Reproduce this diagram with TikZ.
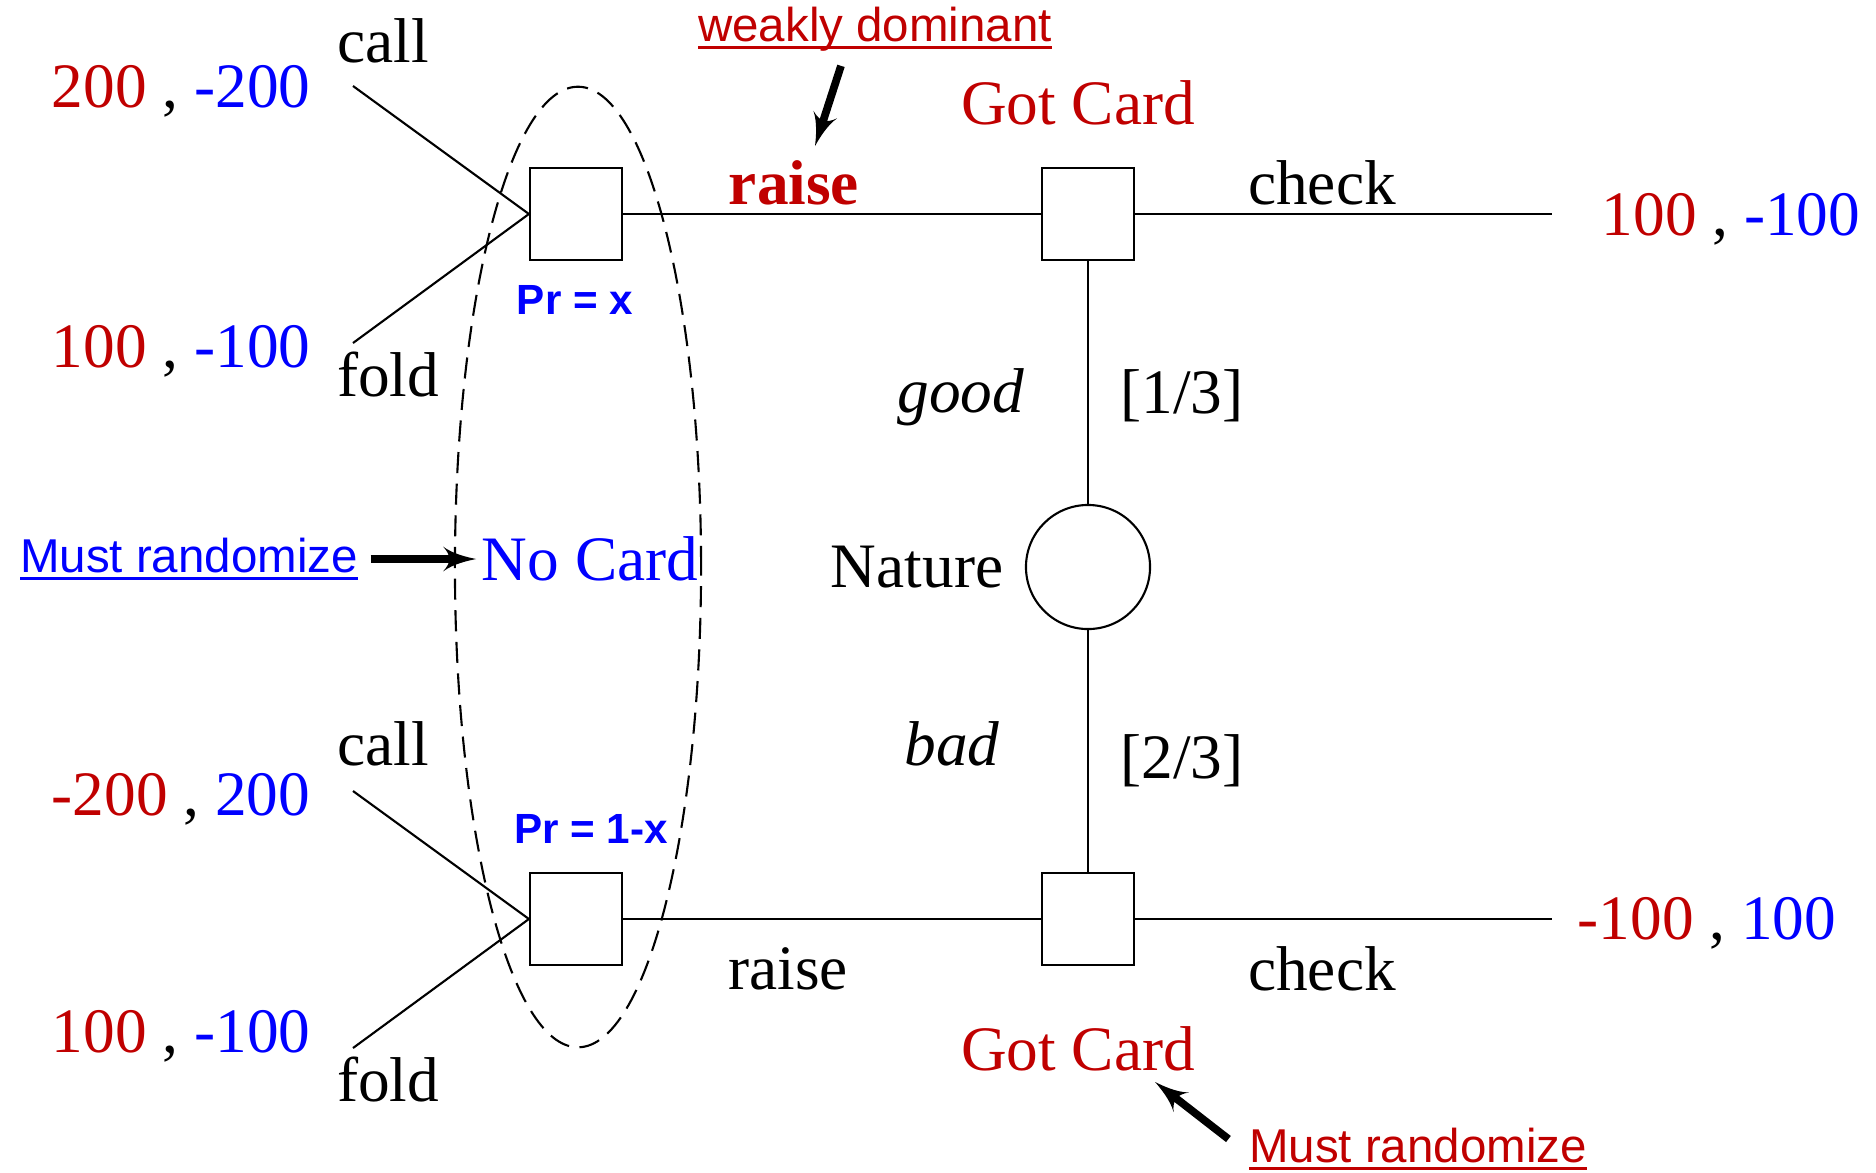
\documentclass[tikz,border=0pt]{standalone}
\usepackage{fontspec}
\setmainfont{Liberation Serif}
\setsansfont{Liberation Sans}
\usepackage{tikz}
\usetikzlibrary{shapes.geometric, arrows, positioning}
\definecolor{payred}{RGB}{192,0,0}
\definecolor{payblue}{RGB}{0,0,255}
% underline a bit heavier than \underline, close to the baseline
\newcommand{\ulined}[1]{\setbox0\hbox{#1}\rlap{\rule[-2.2pt]{\wd0}{0.8pt}}\box0}
\tikzstyle{move} = [rectangle, draw=black, line width=0.6pt, minimum width=0.92cm, minimum height=0.92cm, inner sep=0pt]
\tikzstyle{chance} = [circle, draw=black, line width=0.6pt, minimum size=1.24cm, inner sep=0pt]
\tikzstyle{infoset} = [ellipse, draw=black, line width=0.6pt, dash pattern=on 6pt off 3pt, minimum width=2.46cm, minimum height=9.6cm, inner sep=0pt]
\tikzstyle{branch} = [draw, line width=0.6pt]
\tikzstyle{note} = [font=\fontsize{13.5}{16}\sffamily\selectfont]
\tikzstyle{prob} = [font=\fontsize{12}{14}\sffamily\bfseries\selectfont, text=payblue]
\tikzstyle{pointer} = [draw, line width=2.2pt, -latex']

\begin{document}
\begin{tikzpicture}[x=0.01cm, y=-0.01cm, font=\fontsize{18}{21}\selectfont, inner sep=0pt]
    \useasboundingbox (0,0) rectangle (1876,1172);
    % Nodes
    \node [move] (ptop) at (576,214) {};
    \node [move] (pbot) at (576,919) {};
    \node [move] (gtop) at (1088,214) {};
    \node [move] (gbot) at (1088,919) {};
    \node [chance] (nature) at (1088,567) {};
    \node [infoset] (info) at (578,567) {};
    \coordinate (topcall) at (353,86);
    \coordinate (topfold) at (353,343);
    \coordinate (botcall) at (353,791);
    \coordinate (botfold) at (353,1048);
    \coordinate (topend) at (1552,214);
    \coordinate (botend) at (1552,919);

    % Labels
    \node (callT) at (383,41) {call};
    \node (foldT) at (388,375) {fold};
    \node (callB) at (383,744) {call};
    \node (foldB) at (388,1079) {fold};
    \node [anchor=east] (payA) at (311,91) {{\color{payred}200} , {\color{payblue}-200}};
    \node [anchor=east] (payB) at (311,351) {{\color{payred}100} , {\color{payblue}-100}};
    \node [anchor=east] (payC) at (311,799) {{\color{payred}-200} , {\color{payblue}200}};
    \node [anchor=east] (payD) at (311,1036) {{\color{payred}100} , {\color{payblue}-100}};
    \node [anchor=west] (payE) at (1601,219) {{\color{payred}100} , {\color{payblue}-100}};
    \node [anchor=west] (payF) at (1577,923) {{\color{payred}-100} , {\color{payblue}100}};
    \node [prob] (prx) at (575,300) {Pr = x};
    \node [prob] (prnx) at (591,829) {Pr = 1-x};
    \node [text=payred] (raiseT) at (794,183) {\textbf{raise}};
    \node (raiseB) at (788,969) {raise};
    \node (checkT) at (1322,183) {check};
    \node (checkB) at (1322,969) {check};
    \node [text=payred] (gotT) at (1078,103) {Got Card};
    \node [text=payred] (gotB) at (1078,1049) {Got Card};
    \node [left=0.21cm of nature] (natlbl) {Nature};
    \node (good) at (961,397) {\textit{good}};
    \node (bad) at (952,744) {\textit{bad}};
    \node (pgood) at (1182,396) {[1/3]};
    \node (pbad) at (1182,761) {[2/3]};
    \node [text=payblue] (nocard) at (590,559) {No Card};
    \node [note, text=payblue] (mustL) at (189,559) {\ulined{Must randomize}};
    \node [note, text=payred] (weak) at (875,29) {\ulined{weakly dominant}};
    \node [note, text=payred] (mustR) at (1418,1149) {\ulined{Must randomize}};

    % Edges
    \path [branch] (ptop.west) -- (topcall);
    \path [branch] (ptop.west) -- (topfold);
    \path [branch] (pbot.west) -- (botcall);
    \path [branch] (pbot.west) -- (botfold);
    \path [branch] (ptop) -- (gtop);
    \path [branch] (pbot) -- (gbot);
    \path [branch] (gtop) -- (topend);
    \path [branch] (gbot) -- (botend);
    \path [branch] (gtop) -- (nature);
    \path [branch] (nature) -- (gbot);

    % Pointers
    \path [pointer, shorten <=0.12cm, shorten >=0.05cm] (mustL) -- (nocard);
    \path [pointer] ([xshift=-0.34cm, yshift=-0.14cm]weak.south) -- ([xshift=0.21cm, yshift=0.14cm]raiseT.north);
    \path [pointer] ([xshift=-0.2cm, yshift=0.1cm]mustR.west) -- ([xshift=0.77cm, yshift=-0.1cm]gotB.south);
\end{tikzpicture}
\end{document}
